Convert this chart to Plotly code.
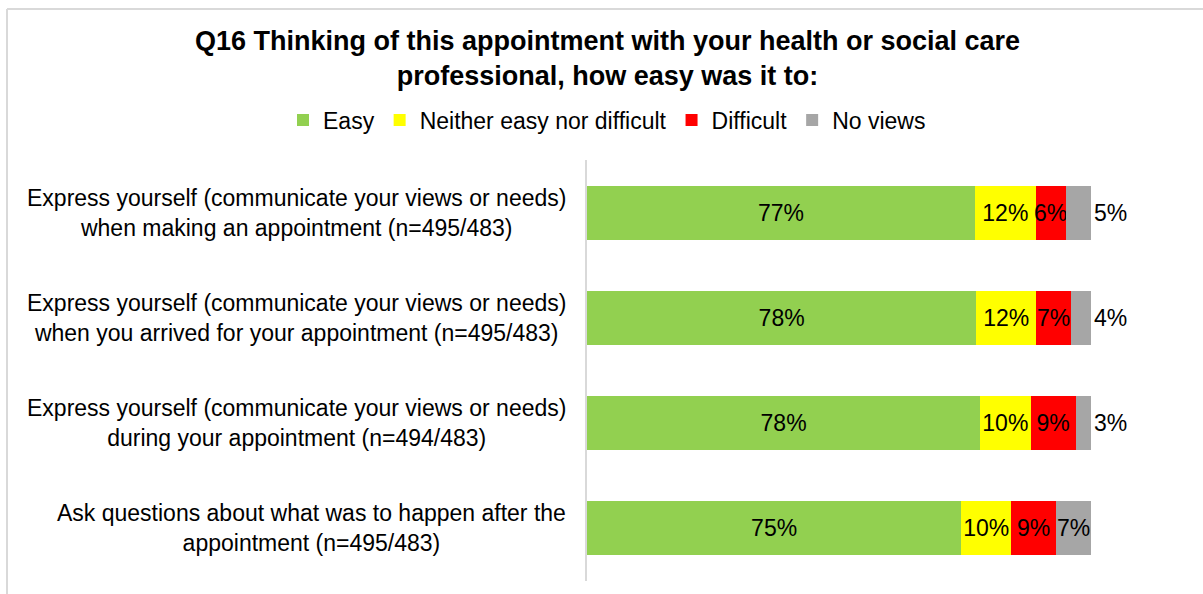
import plotly.graph_objects as go

# Survey question rows (top to bottom)
categories = [
    "Express yourself (communicate your views or needs)<br>when making an appointment (n=495/483)",
    "Express yourself (communicate your views or needs)<br>when you arrived for your appointment (n=495/483)",
    "Express yourself (communicate your views or needs)<br>during your appointment (n=494/483)",
    "Ask questions about what was to happen after the<br>appointment (n=495/483)",
]

# Response shares in percent
easy = [77, 78, 78, 75]
neither = [12, 12, 10, 10]
difficult = [6, 7, 9, 9]
no_views = [5, 4, 3, 7]

series_names = ["Easy", "Neither easy nor difficult", "Difficult", "No views"]
series_colors = ["#92d050", "#ffff00", "#ff0000", "#a6a6a6"]
no_views_text_pos = ["outside", "outside", "outside", "inside"]

FONT = "Liberation Sans, Arial, sans-serif"
W, H = 1203, 594
ML, MR, MT, MB = 587, 112, 160, 13

fig = go.Figure()
for name, vals, color in zip(series_names, [easy, neither, difficult, no_views], series_colors):
    fig.add_trace(go.Bar(
        y=categories,
        x=vals,
        name=name,
        orientation="h",
        marker=dict(color=color, line=dict(width=0)),
        text=[f"{v}%" for v in vals],
        textposition=no_views_text_pos if name == "No views" else "inside",
        insidetextanchor="middle",
        textangle=0,
        constraintext="none",
        textfont=dict(family=FONT, size=23, color="#000000"),
        insidetextfont=dict(family=FONT, size=23, color="#000000"),
        outsidetextfont=dict(family=FONT, size=23, color="#000000"),
        cliponaxis=False,
        hoverinfo="skip",
    ))

# Centred multi-line category labels to the left of the bars
for cat in categories:
    fig.add_annotation(
        x=0, xref="paper", y=cat, yref="y",
        text=cat, showarrow=False,
        xanchor="right", yanchor="middle", align="center",
        xshift=-19,
        font=dict(family=FONT, size=23, color="#000000"),
    )

# Light frame around the chart area
plot_w = W - ML - MR
plot_h = H - MT - MB
def px_to_paper_x(px):
    return (px - ML) / plot_w
def px_to_paper_y(py):
    return 1 + (MT - py) / plot_h

frame = dict(color="#d9d9d9", width=2)
fig.add_shape(type="line", xref="paper", yref="paper",
              x0=px_to_paper_x(7), x1=px_to_paper_x(W + 5),
              y0=px_to_paper_y(9), y1=px_to_paper_y(9), line=frame)
fig.add_shape(type="line", xref="paper", yref="paper",
              x0=px_to_paper_x(7), x1=px_to_paper_x(7),
              y0=px_to_paper_y(9), y1=px_to_paper_y(H + 5), line=frame)

fig.update_layout(
    width=W, height=H,
    barmode="stack",
    barnorm="percent",
    bargap=0.486,
    plot_bgcolor="#ffffff",
    paper_bgcolor="#ffffff",
    margin=dict(l=ML, r=MR, t=MT, b=MB, pad=0, autoexpand=False),
    title=dict(
        text="<b>Q16 Thinking of this appointment with your health or social care<br>professional, how easy was it to:</b>",
        x=0.505, xanchor="center", xref="container",
        y=1 - 50 / H, yanchor="top", yref="container",
        font=dict(family=FONT, size=27, color="#000000"),
    ),
    legend=dict(
        orientation="h",
        x=px_to_paper_x(283), xanchor="left",
        y=px_to_paper_y(120), yanchor="middle",
        traceorder="normal",
        font=dict(family=FONT, size=23, color="#000000"),
        itemclick=False, itemdoubleclick=False,
        itemwidth=30,
        bgcolor="rgba(0,0,0,0)",
    ),
    xaxis=dict(range=[0, 100], visible=False, fixedrange=True),
    yaxis=dict(
        autorange="reversed",
        showticklabels=False,
        ticks="",
        showgrid=False,
        zeroline=False,
        showline=True,
        linecolor="#d9d9d9",
        linewidth=2,
        fixedrange=True,
    ),
    showlegend=True,
)

fig.write_html("out.html", config={"displayModeBar": False})
